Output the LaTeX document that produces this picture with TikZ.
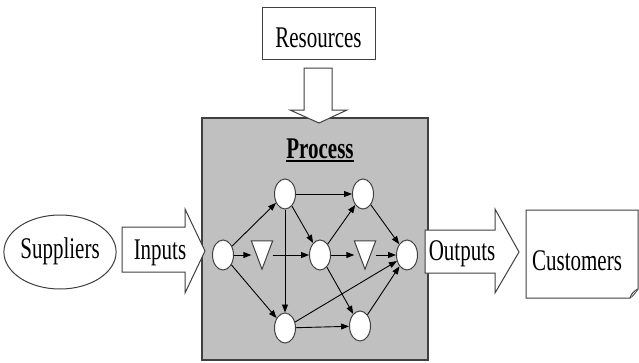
\documentclass[tikz,border=0pt]{standalone}
\usepackage{fontspec}
\setmainfont{Liberation Serif}[FakeStretch=0.7]
\usepackage{tikz}
\usetikzlibrary{shapes.geometric,arrows.meta}

\definecolor{edgegray}{RGB}{64,64,64}
\definecolor{boxgray}{RGB}{192,192,192}

\begin{document}
\begin{tikzpicture}[x=1pt,y=-1pt,
  font=\fontsize{30}{36}\selectfont,
  outline/.style={draw=edgegray,line width=1pt,fill=white},
  stn/.style={ellipse,outline,minimum width=21pt,minimum height=30pt,inner sep=0pt},
  tri/.style={minimum width=21pt,minimum height=28pt,inner sep=0pt},
  flow/.style={-{Triangle[length=8pt,width=6pt]},line width=0.9pt}]
\fill[white] (0,0) rectangle (639,362);
\useasboundingbox (0,0) rectangle (639,362);

% process box
\node[draw=edgegray,fill=boxgray,line width=1.5pt,minimum width=226pt,minimum height=242pt] (pbox) at (315,239) {};
\node[anchor=base,inner sep=0pt,font=\fontsize{30}{36}\selectfont\bfseries] (proc) at (320,158) {Process};
\draw[line width=2pt] ([yshift=-3pt]proc.base west) -- ([yshift=-3pt]proc.base east);

% resources on top
\node[outline,minimum width=113pt,minimum height=52pt,text height=28pt,text depth=0pt,inner sep=0pt] (res) at (318.5,33) {Resources};
\draw[outline] (304,68) -- (332,68) -- (332,110) -- (347,110) -- (319,123) -- (290,110) -- (304,110) -- cycle;

% suppliers and inputs
\node[ellipse,outline,minimum width=110pt,minimum height=74pt,text height=20pt,text depth=8pt,inner sep=0pt] (sup) at (60,252) {Suppliers};
\draw[outline] (122,227) -- (185,227) -- (185,209) -- (205,251) -- (185,293) -- (185,272) -- (122,272) -- cycle;
\node[anchor=base] (inp) at (160,259) {Inputs};

% outputs and customers
\draw[outline] (425,230) -- (495,230) -- (495,209) -- (519,252) -- (495,293) -- (495,273) -- (425,273) -- cycle;
\node[anchor=base] (outp) at (462,260) {Outputs};
\draw[outline] (526,210) -- (638,210) -- (638,289) .. controls (636,292) and (633,296) .. (630,298) -- (526,298) -- cycle;
\draw[outline] (630,298) .. controls (631,294) and (634,291) .. (638,289);
\node[anchor=base] (cust) at (577,270) {Customers};

% steps inside the process
\node[stn] (c1) at (223,255) {};
\node[stn] (c2) at (285,194) {};
\node[stn] (c3) at (363,194) {};
\node[stn] (c4) at (320,255) {};
\node[stn] (c5) at (407,255) {};
\node[stn] (c6) at (285,328) {};
\node[stn] (c7) at (360,326) {};
\node[tri] (t1) at (262,255) {};
\node[tri] (t2) at (365,255) {};
\draw[outline] (t1.north west) -- (t1.north east) -- (t1.south) -- cycle;
\draw[outline] (t2.north west) -- (t2.north east) -- (t2.south) -- cycle;

\draw[flow] (c1) to (c2);
\draw[flow] (c1) to (t1);
\draw[flow] (t1) to (c4);
\draw[flow] (c1) to (c6);
\draw[flow] (c2) to (c3);
\draw[flow] (c2) to (c4);
\draw[flow] (c2) to (c6);
\draw[flow] (c4) to (c3);
\draw[flow] (c4) to (t2);
\draw[flow] (t2) to (c5);
\draw[flow] (c4) to (c7);
\draw[flow] (c3) to (c5);
\draw[flow] (c6) to (c5);
\draw[flow] (c6) to (c7);
\draw[flow] (c7) to (c5);

\end{tikzpicture}
\end{document}
